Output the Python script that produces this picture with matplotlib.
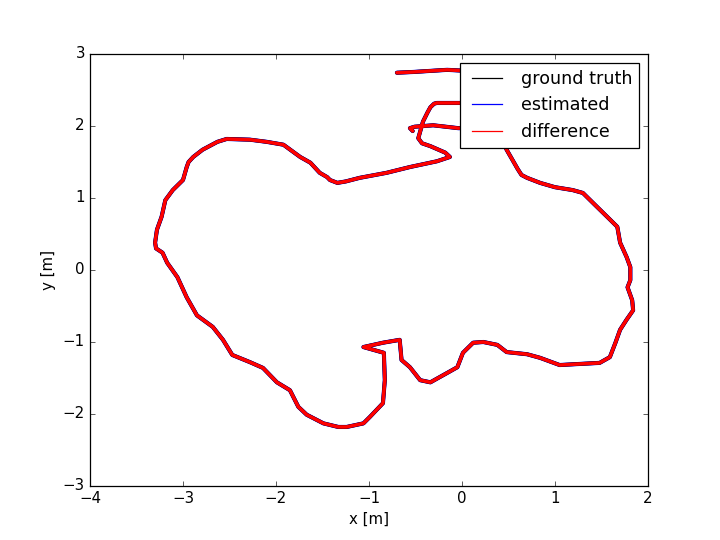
import matplotlib
matplotlib.use("Agg")
import matplotlib.pyplot as plt
from matplotlib.lines import Line2D

plt.style.use("classic")

# trajectory (ground truth / estimated are visually identical at this scale)
traj_x = [-0.70, -0.53, -0.16, 0.14, 0.35, 0.39, 0.19, -0.02, -0.18, -0.27, -0.30,
          -0.34, -0.37, -0.42, -0.47, -0.43, -0.34, -0.18, -0.13, -0.20, -0.27, -0.56, -0.81, -1.10,
          -1.25, -1.34, -1.42, -1.45, -1.53, -1.63, -1.74, -1.92, -2.10, -2.28, -2.53, -2.63,
          -2.79, -2.89, -2.94, -2.96, -3.00, -3.11, -3.19, -3.23, -3.28, -3.30, -3.29, -3.22,
          -3.17, -3.06, -2.96, -2.85, -2.68, -2.57, -2.47, -2.28, -2.14, -1.99,
          -1.85, -1.76, -1.67, -1.49, -1.33, -1.24, -1.06, -0.99, -0.85, -0.83, -0.84,
          -1.06, -0.85, -0.67, -0.65, -0.56, -0.45, -0.34, -0.16, -0.05, 0.01,
          0.12, 0.23, 0.38, 0.48, 0.70, 0.84, 1.05, 1.19, 1.48, 1.59,
          1.65, 1.70, 1.77, 1.84, 1.83, 1.78, 1.81, 1.81, 1.77, 1.70,
          1.67, 1.56, 1.41, 1.30, 1.19, 1.00, 0.84, 0.70, 0.64, 0.60, 0.48, 0.41,
          0.19, -0.04, -0.31, -0.51, -0.56, -0.53]
traj_y = [2.74, 2.75, 2.78, 2.76, 2.64, 2.43, 2.32, 2.32, 2.32, 2.32, 2.31,
          2.26, 2.19, 2.06, 1.83, 1.76, 1.72, 1.63, 1.57, 1.54, 1.51, 1.43, 1.35, 1.28,
          1.23, 1.21, 1.25, 1.29, 1.35, 1.49, 1.57, 1.74, 1.78, 1.81, 1.82, 1.78,
          1.67, 1.57, 1.50, 1.43, 1.25, 1.11, 0.97, 0.74, 0.56, 0.38, 0.30, 0.24,
          0.10, -0.10, -0.38, -0.63, -0.79, -0.97, -1.18, -1.28, -1.36, -1.56,
          -1.67, -1.90, -2.01, -2.13, -2.18, -2.18, -2.13, -2.04, -1.85, -1.53, -1.15,
          -1.07, -1.01, -0.97, -1.25, -1.35, -1.53, -1.56, -1.43, -1.35, -1.15,
          -1.01, -1.00, -1.04, -1.14, -1.17, -1.22, -1.32, -1.31, -1.29, -1.21,
          -1.01, -0.83, -0.69, -0.56, -0.42, -0.24, -0.14, 0.04, 0.18, 0.38,
          0.60, 0.74, 0.93, 1.07, 1.11, 1.15, 1.21, 1.28, 1.32, 1.40, 1.67, 1.88,
          1.97, 1.97, 2.01, 1.99, 1.97, 1.93]

legend_labels = ["ground truth", "estimated", "difference"]

fig = plt.figure(figsize=(8, 6), dpi=90, facecolor="white")
ax = fig.add_axes([0.125, 0.1, 0.775, 0.8])

ax.plot(traj_x, traj_y, color="blue", lw=3.3, solid_joinstyle="round",
        solid_capstyle="round")
ax.plot(traj_x, traj_y, color="black", lw=3.0, solid_joinstyle="round",
        solid_capstyle="round")
ax.plot(traj_x, traj_y, color="red", lw=2.8, solid_joinstyle="round",
        solid_capstyle="round")

ax.set_xlim(-4, 2)
ax.set_ylim(-3, 3)
ax.set_xticks([-4, -3, -2, -1, 0, 1, 2])
ax.set_yticks([-3, -2, -1, 0, 1, 2, 3])
ax.set_xlabel("x [m]")
ax.set_ylabel("y [m]")

handles = [Line2D([], [], color="black", lw=1),
           Line2D([], [], color="blue", lw=1),
           Line2D([], [], color="red", lw=1)]
leg = ax.legend(handles, legend_labels, loc="upper right", fontsize=14,
                fancybox=False, framealpha=1, handlelength=2.3)
leg.get_frame().set_edgecolor("black")

fig.savefig("out.png", dpi=90, facecolor="white")
